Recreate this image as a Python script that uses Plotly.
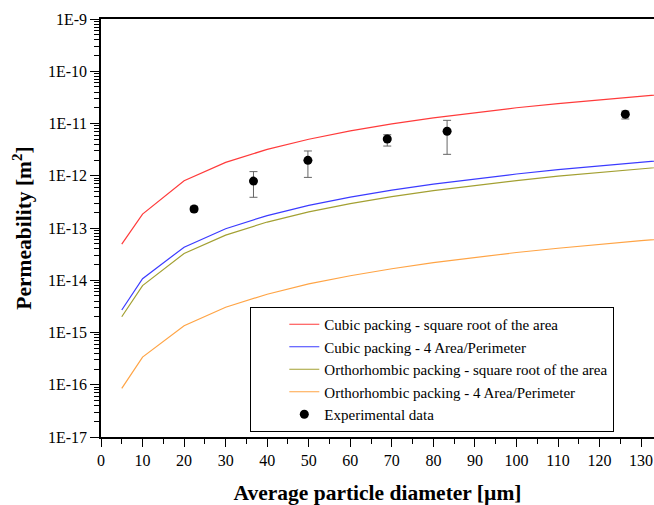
import plotly.graph_objects as go

# Particle diameters (µm) for the model curves
diam = [5, 10, 20, 30, 40, 50, 60, 70, 80, 90, 100, 110, 120, 130, 140]

cubic_sqrt = [4.9e-14, 1.85e-13, 8.0e-13, 1.8e-12, 3.2e-12, 5.0e-12, 7.2e-12, 9.8e-12,
              1.28e-11, 1.62e-11, 2.0e-11, 2.4e-11, 2.85e-11, 3.35e-11, 3.9e-11]
cubic_4ap = [2.7e-15, 1.07e-14, 4.3e-14, 9.7e-14, 1.73e-13, 2.7e-13, 3.9e-13, 5.3e-13,
             6.9e-13, 8.75e-13, 1.08e-12, 1.31e-12, 1.56e-12, 1.83e-12, 2.12e-12]
ortho_sqrt = [2.0e-15, 7.9e-15, 3.25e-14, 7.3e-14, 1.3e-13, 2.03e-13, 2.92e-13, 3.97e-13,
              5.2e-13, 6.55e-13, 8.1e-13, 9.8e-13, 1.17e-12, 1.37e-12, 1.59e-12]
ortho_4ap = [8.5e-17, 3.38e-16, 1.35e-15, 3.05e-15, 5.4e-15, 8.5e-15, 1.22e-14, 1.66e-14,
             2.17e-14, 2.75e-14, 3.4e-14, 4.1e-14, 4.9e-14, 5.75e-14, 6.65e-14]

# Experimental data
exp_d = [22.4, 36.7, 49.8, 68.9, 83.3, 126.2]
exp_k = [2.31e-13, 7.9e-13, 1.97e-12, 5.05e-12, 7.1e-12, 1.5e-11]
exp_hi = [2.6e-13, 1.2e-12, 2.98e-12, 6.1e-12, 1.15e-11, 1.73e-11]
exp_lo = [2.05e-13, 3.87e-13, 9.3e-13, 3.7e-12, 2.57e-12, 1.22e-11]

ytick_vals = [1e-17, 1e-16, 1e-15, 1e-14, 1e-13, 1e-12, 1e-11, 1e-10, 1e-9]
ytick_text = ["1E-17", "1E-16", "1E-15", "1E-14", "1E-13", "1E-12", "1E-11", "1E-10", "1E-9"]
xtick_vals = list(range(0, 140, 10))

names = ["Cubic packing - square root of the area",
         "Cubic packing - 4 Area/Perimeter",
         "Orthorhombic packing - square root of the area",
         "Orthorhombic packing - 4 Area/Perimeter",
         "Experimental data"]
colors = ["#ff3b3b", "#3b3bff", "#a3a032", "#ffa445"]

FONT = "Liberation Serif"

fig = go.Figure()
for ys, nm, c in zip([cubic_sqrt, cubic_4ap, ortho_sqrt, ortho_4ap], names[:4], colors):
    fig.add_trace(go.Scatter(x=diam, y=ys, mode="lines", name=nm,
                             line=dict(color=c, width=1.2)))

err_plus = [h - k for h, k in zip(exp_hi, exp_k)]
err_minus = [k - l for k, l in zip(exp_k, exp_lo)]
fig.add_trace(go.Scatter(x=exp_d, y=exp_k, mode="markers", name=names[4],
                         marker=dict(color="black", size=9, symbol="circle"),
                         error_y=dict(type="data", symmetric=False, array=err_plus,
                                      arrayminus=err_minus, color="#666666",
                                      thickness=1, width=4)))

fig.update_layout(
    width=654, height=505,
    margin=dict(l=101, r=0, t=19, b=68),
    paper_bgcolor="white", plot_bgcolor="white",
    font=dict(family=FONT, size=16, color="black"),
    showlegend=True,
    legend=dict(x=0.27, y=0.012, xanchor="left", yanchor="bottom",
                bgcolor="white", bordercolor="black", borderwidth=1,
                font=dict(family=FONT, size=15, color="black"),
                indentation=33, tracegroupgap=0),
)
fig.update_xaxes(
    range=[0, 133.1], tickvals=xtick_vals, ticks="outside", ticklen=8, tickwidth=1,
    tickcolor="black", showline=True, linecolor="black", linewidth=1.5, mirror=True,
    showgrid=False, zeroline=False,
    minor=dict(ticks="outside", ticklen=5, dtick=5, tickcolor="black", showgrid=False),
    tickfont=dict(family=FONT, size=16, color="black"),
    title=dict(text="<b>Average particle diameter [µm]</b>", standoff=20,
               font=dict(family=FONT, size=21.5, color="black")),
)
fig.update_yaxes(
    type="log", range=[-17, -9], tickvals=ytick_vals, ticktext=ytick_text,
    ticks="outside", ticklen=9, tickwidth=1, tickcolor="black",
    showline=True, linecolor="black", linewidth=1.5, mirror=False,
    showgrid=False, zeroline=False,
    minor=dict(ticks="outside", ticklen=5, dtick="D1", tickcolor="black", showgrid=False),
    tickfont=dict(family=FONT, size=16, color="black"),
    title=dict(text="<b>Permeability [m<sup>2</sup>]</b>", standoff=10,
               font=dict(family=FONT, size=21.5, color="black")),
)

fig.write_html("out.html")
